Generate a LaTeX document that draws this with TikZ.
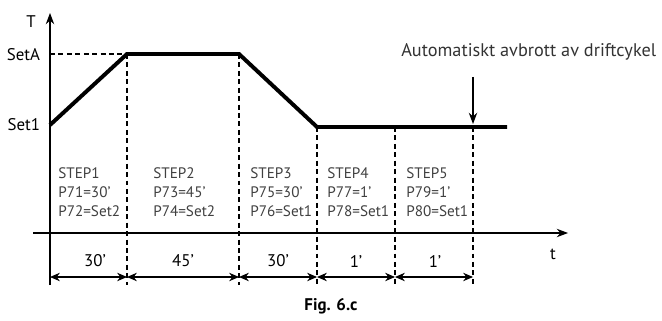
\documentclass[tikz,border=0pt]{standalone}
\usepackage{fontspec}
\setmainfont{PT Sans}
\usetikzlibrary{arrows.meta}
\tikzset{
  curve/.style={line width=2.8pt,line join=miter},
  guide/.style={dashed,thick,dash pattern=on 3.5pt off 2.5pt},
  dim/.style={thick,{Stealth[length=7pt,width=6pt]}-{Stealth[length=7pt,width=6pt]}},
  steptext/.style={anchor=north west,align=left,font=\fontsize{10.8}{13.5}\selectfont,text=black!75,inner sep=0pt},
  lbl/.style={font=\fontsize{12}{14}\selectfont}
}
\begin{document}
\begin{tikzpicture}[x=0.025cm,y=-0.025cm]
\useasboundingbox (0,0) rectangle (662,321);
% axes
\draw[thick,-{Stealth[length=8pt,width=6pt]}] (50,285) -- (50,13);
\draw[thick,-{Stealth[length=8pt,width=6pt]}] (33,233) -- (568,233);
\node[lbl] (T) at (31,22) {T};
\node[lbl] (tt) at (553,254) {t};
\node[lbl,anchor=east] (setA) at (45,55) {SetA};
\node[lbl,anchor=east] (set1) at (45,125) {Set1};
% guides
\draw[guide] (50,54) -- (127,54);
\draw[guide] (127,54) -- (127,285);
\draw[guide] (239,54) -- (239,285);
\draw[guide] (317,127) -- (317,285);
\draw[guide] (395,127) -- (395,285);
\draw[guide] (473,127) -- (473,285);
% temperature profile
\draw[curve] (50,125) -- (127,54) -- (239,54) -- (317,127) -- (507,127);
% stop marker
\node[font=\fontsize{13}{15}\selectfont,text=black!80,anchor=west,inner sep=0pt] (stop) at (401,52) {Automatiskt avbrott av driftcykel};
\draw[thick,-{Stealth[length=8pt,width=6pt]}] (473,77) -- (473,124);
% steps
\node[steptext] (s1) at (58,167) {STEP1\\P71=30'\\P72=Set2};
\node[steptext] (s2) at (153,167) {STEP2\\P73=45'\\P74=Set2};
\node[steptext] (s3) at (250,167) {STEP3\\P75=30'\\P76=Set1};
\node[steptext] (s4) at (327,167) {STEP4\\P77=1'\\P78=Set1};
\node[steptext] (s5) at (406,167) {STEP5\\P79=1'\\P80=Set1};
% durations
\draw[dim] (50,277) -- (127,277);
\draw[dim] (127,277) -- (239,277);
\draw[dim] (239,277) -- (317,277);
\draw[dim] (317,277) -- (395,277);
\draw[dim] (395,277) -- (473,277);
\node[lbl] (d1) at (95,261) {30'};
\node[lbl] (d2) at (183,261) {45'};
\node[lbl] (d3) at (278,261) {30'};
\node[lbl] (d4) at (356,261) {1'};
\node[lbl] (d5) at (435,261) {1'};
\node[font=\bfseries\fontsize{12}{14}\selectfont] (fig) at (331,306) {Fig. 6.c};
\end{tikzpicture}
\end{document}
